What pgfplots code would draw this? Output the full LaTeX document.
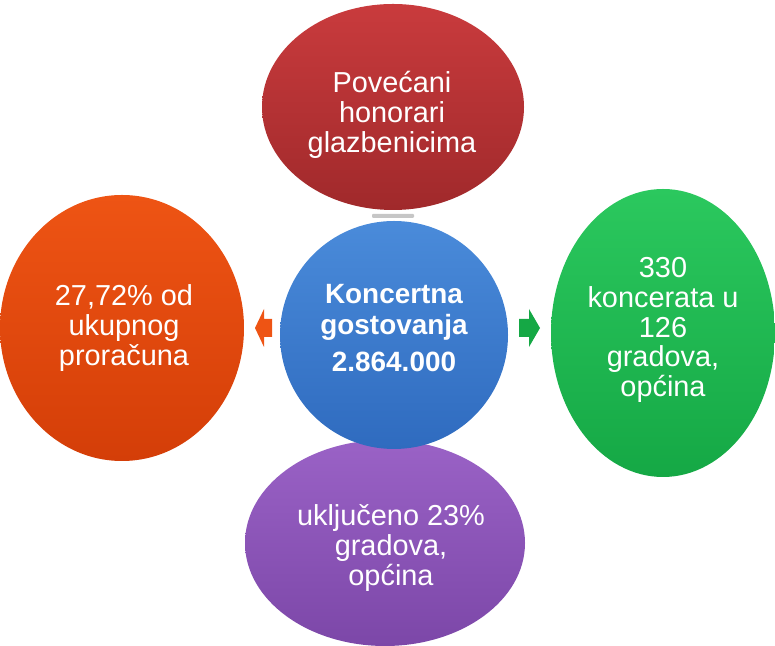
\documentclass[border=0pt]{standalone}
\usepackage{pgfplots}
\pgfplotsset{compat=1.18}
\usepackage{fontspec}
\setmainfont{Liberation Sans}
\definecolor{cred}{HTML}{C93B3D}
\definecolor{credd}{HTML}{A0292B}
\definecolor{corg}{HTML}{EE5414}
\definecolor{corgd}{HTML}{D43E08}
\definecolor{cgrn}{HTML}{2BC85E}
\definecolor{cgrnd}{HTML}{15A845}
\definecolor{cpur}{HTML}{9A62C6}
\definecolor{cpurd}{HTML}{7C47A8}
\definecolor{cblu}{HTML}{4A8BDA}
\definecolor{cblud}{HTML}{2F6BBF}

\begin{document}
\begin{tikzpicture}
\begin{axis}[
  x=1bp, y=1bp,
  xmin=0, xmax=775, ymin=0, ymax=646,
  hide axis, clip=false,
]
\path[use as bounding box] (axis cs:0,0) rectangle (axis cs:775,646);
% connectors
\fill[gray!45, rounded corners=1bp] (axis cs:372,428) rectangle (axis cs:414,432);
\fill[gray!45, rounded corners=1bp] (axis cs:372,196) rectangle (axis cs:414,200);
% arrows
\fill[corg] (axis cs:272,327) -- (axis cs:264,327) -- (axis cs:264,337)
  -- (axis cs:255,318) -- (axis cs:264,299) -- (axis cs:264,309) -- (axis cs:272,309) -- cycle;
\fill[cgrnd] (axis cs:519,309) -- (axis cs:529,309) -- (axis cs:529,299)
  -- (axis cs:540,318) -- (axis cs:529,337) -- (axis cs:529,327) -- (axis cs:519,327) -- cycle;
% ellipses
\shade[top color=cred, bottom color=credd] (axis cs:393,539) ellipse [x radius=131bp, y radius=103bp];
\shade[top color=corg, bottom color=corgd] (axis cs:122,318) ellipse [x radius=122bp, y radius=133bp];
\shade[top color=cgrn, bottom color=cgrnd] (axis cs:663,313) ellipse [x radius=112bp, y radius=144bp];
\shade[top color=cpur, bottom color=cpurd] (axis cs:385,103) ellipse [x radius=140bp, y radius=103bp];
\shade[top color=cblu, bottom color=cblud] (axis cs:394,311) circle [radius=114bp];
% labels
\begin{scope}[every node/.style={text=white, align=center, inner sep=0pt, font=\fontsize{29}{30}\selectfont}]
\node at (axis cs:392,531) {Povećani\\honorari\\glazbenicima};
\node at (axis cs:124,318) {27,72\% od\\ukupnog\\proračuna};
\node at (axis cs:663,316) {330\\koncerata u\\126\\gradova,\\općina};
\node at (axis cs:391,98) {uključeno 23\%\\gradova,\\općina};
\node[font=\fontsize{28}{31}\selectfont\bfseries] at (axis cs:394,318) {Koncertna\\gostovanja\\[6bp]2.864.000};
\end{scope}
\end{axis}
\end{tikzpicture}
\end{document}
